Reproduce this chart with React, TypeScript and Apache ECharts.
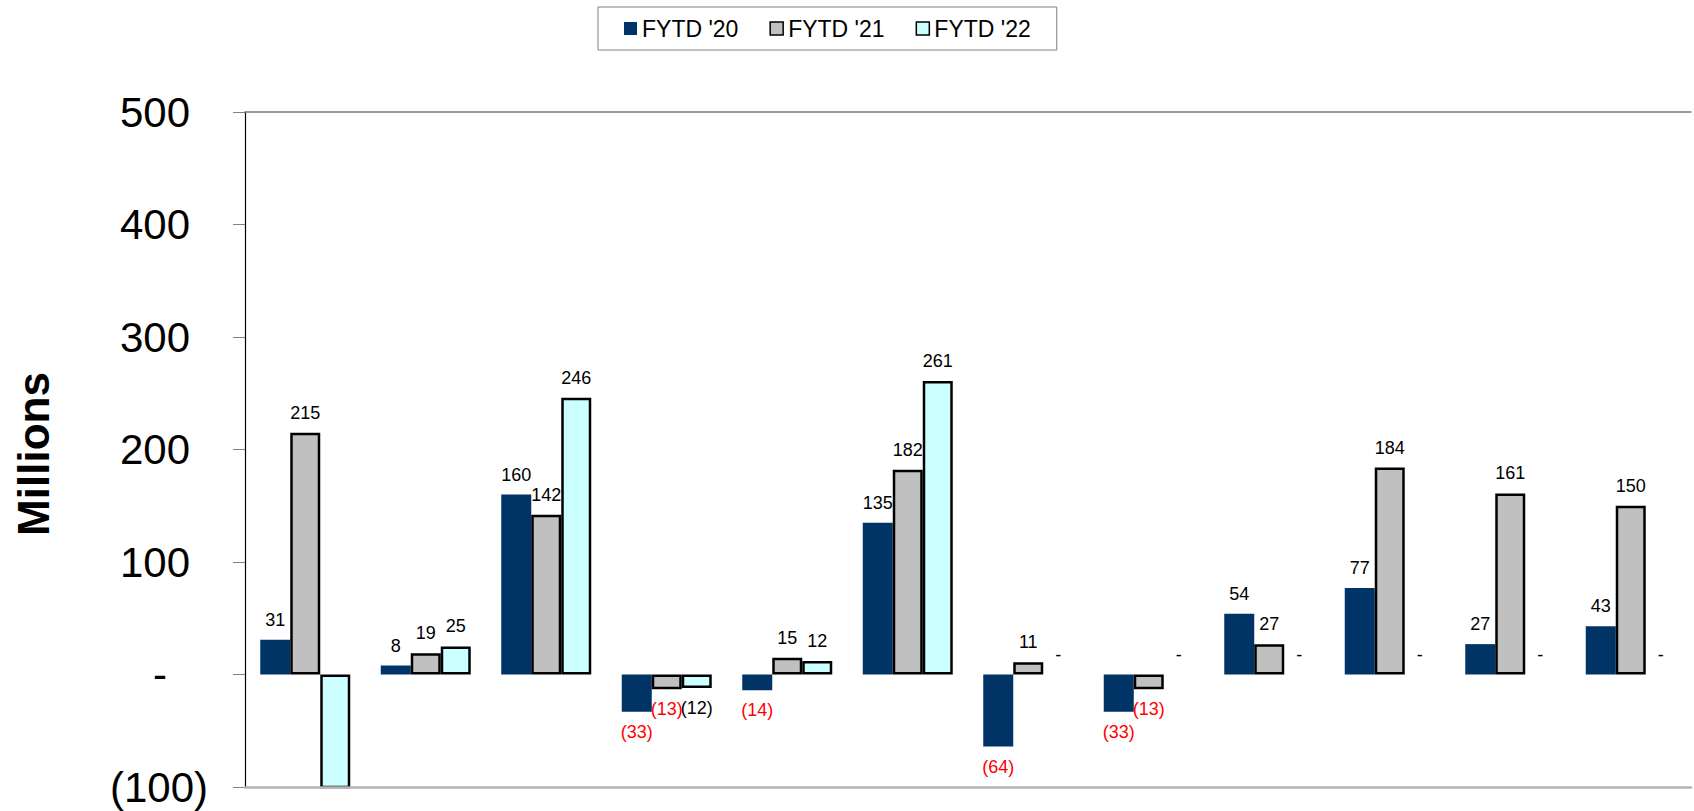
import React, { useEffect, useRef } from 'react';
import * as echarts from 'echarts';

const categories = ['Jul', 'Aug', 'Sep', 'Oct', 'Nov', 'Dec', 'Jan', 'Feb', 'Mar', 'Apr', 'May', 'Jun'];
const seriesNames = ["FYTD '20", "FYTD '21", "FYTD '22"];
const fytd20 = [31, 8, 160, -33, -14, 135, -64, -33, 54, 77, 27, 43];
const fytd21 = [215, 19, 142, -13, 15, 182, 11, -13, 27, 184, 161, 150];
const fytd22 = [-125, 25, 246, -12, 12, 261, 0, 0, 0, 0, 0, 0];
const yMin = -100;
const yMax = 500;
const yStep = 100;

const FONT = '"Liberation Sans", Arial, sans-serif';

function fmtValue(v: number): string {
  if (v === 0) return '-';
  if (v < 0) return '(' + Math.abs(v) + ')';
  return String(v);
}

function buildData(values: number[], negColor: string) {
  return values.map((v) => ({
    value: v,
    itemStyle: v === 0 ? { borderWidth: 0 } : undefined,
    label: {
      show: v >= yMin,
      position: v < 0 ? 'bottom' : 'top',
      color: v < 0 ? negColor : '#000000',
    },
  }));
}

export default function App() {
  const ref = useRef<HTMLDivElement>(null);

  useEffect(() => {
    if (!ref.current) return;
    const chart = echarts.init(ref.current, undefined, { renderer: 'svg' });

    const labelCommon = {
      show: true,
      distance: 11,
      fontSize: 18,
      fontFamily: FONT,
      formatter: (p: any) => fmtValue(p.value),
    };

    const option: any = {
      animation: false,
      backgroundColor: '#ffffff',
      textStyle: { fontFamily: FONT },
      legend: {
        left: 598,
        top: 7,
        padding: [10, 26],
        borderColor: '#808080',
        borderWidth: 1,
        itemGap: 31,
        itemWidth: 13,
        itemHeight: 13,
        icon: 'rect',
        textStyle: { fontSize: 23, color: '#000000', fontFamily: FONT },
        data: [
          { name: seriesNames[0], itemStyle: { borderWidth: 0 } },
          { name: seriesNames[1], itemStyle: { borderWidth: 1.5, borderColor: '#000000' } },
          { name: seriesNames[2], itemStyle: { borderWidth: 1.5, borderColor: '#000000' } },
        ],
      },
      grid: { left: 245, right: 3, top: 112, bottom: 24, containLabel: false },
      xAxis: [
        {
          type: 'category',
          data: categories,
          position: 'bottom',
          z: 5,
          axisLine: { show: true, onZero: false, lineStyle: { color: '#b4b4b4', width: 2.6 } },
          axisTick: { show: false },
          axisLabel: { show: false },
          splitLine: { show: false },
        },
        {
          type: 'category',
          data: categories,
          position: 'top',
          axisLine: { show: true, onZero: false, lineStyle: { color: '#7a7a7a', width: 1.5 } },
          axisTick: { show: false },
          axisLabel: { show: false },
          splitLine: { show: false },
        },
      ],
      yAxis: {
        type: 'value',
        min: yMin,
        max: yMax,
        interval: yStep,
        axisLine: { show: true, lineStyle: { color: '#000000', width: 1.2 } },
        axisTick: { show: true, length: 12, lineStyle: { color: '#808080' } },
        splitLine: { show: false },
        axisLabel: {
          margin: 37,
          fontSize: 42,
          color: '#000000',
          fontFamily: FONT,
          formatter: (v: number) => {
            if (v === 0) return '{z|-}';
            if (v < 0) return '{n|(' + Math.abs(v) + ')}';
            return '{p|' + v + '}';
          },
          rich: {
            z: { fontSize: 42, fontFamily: FONT, color: '#000', padding: [0, 41, 0, 0] },
            n: { fontSize: 42, fontFamily: FONT, color: '#000' },
            p: { fontSize: 42, fontFamily: FONT, color: '#000', padding: [0, 18, 0, 0] },
          },
        },
      },
      graphic: [
        {
          type: 'text',
          x: 33,
          y: 454,
          rotation: Math.PI / 2,
          style: {
            text: 'Millions',
            fontSize: 44,
            fontWeight: 'bold',
            fontFamily: FONT,
            fill: '#000000',
            align: 'center',
            verticalAlign: 'middle',
          },
        },
      ],
      series: [
        {
          name: seriesNames[0],
          type: 'bar',
          barWidth: 30,
          barGap: '0%',
          itemStyle: { color: '#003366', borderWidth: 0 },
          label: labelCommon,
          data: buildData(fytd20, '#ff0000'),
        },
        {
          name: seriesNames[1],
          type: 'bar',
          barWidth: 30,
          barGap: '0%',
          itemStyle: { color: '#c0c0c0', borderColor: '#000000', borderWidth: 2.5 },
          label: labelCommon,
          data: buildData(fytd21, '#ff0000'),
        },
        {
          name: seriesNames[2],
          type: 'bar',
          barWidth: 30,
          barGap: '0%',
          clip: true,
          itemStyle: { color: '#ccffff', borderColor: '#000000', borderWidth: 2.5 },
          label: labelCommon,
          data: buildData(fytd22, '#000000'),
        },
      ],
    };

    chart.setOption(option);
    return () => {
      chart.dispose();
    };
  }, []);

  return (
    <div
      ref={ref}
      style={{ position: 'absolute', left: 0, top: 0, width: 1694, height: 811, background: '#fff' }}
    />
  );
}
